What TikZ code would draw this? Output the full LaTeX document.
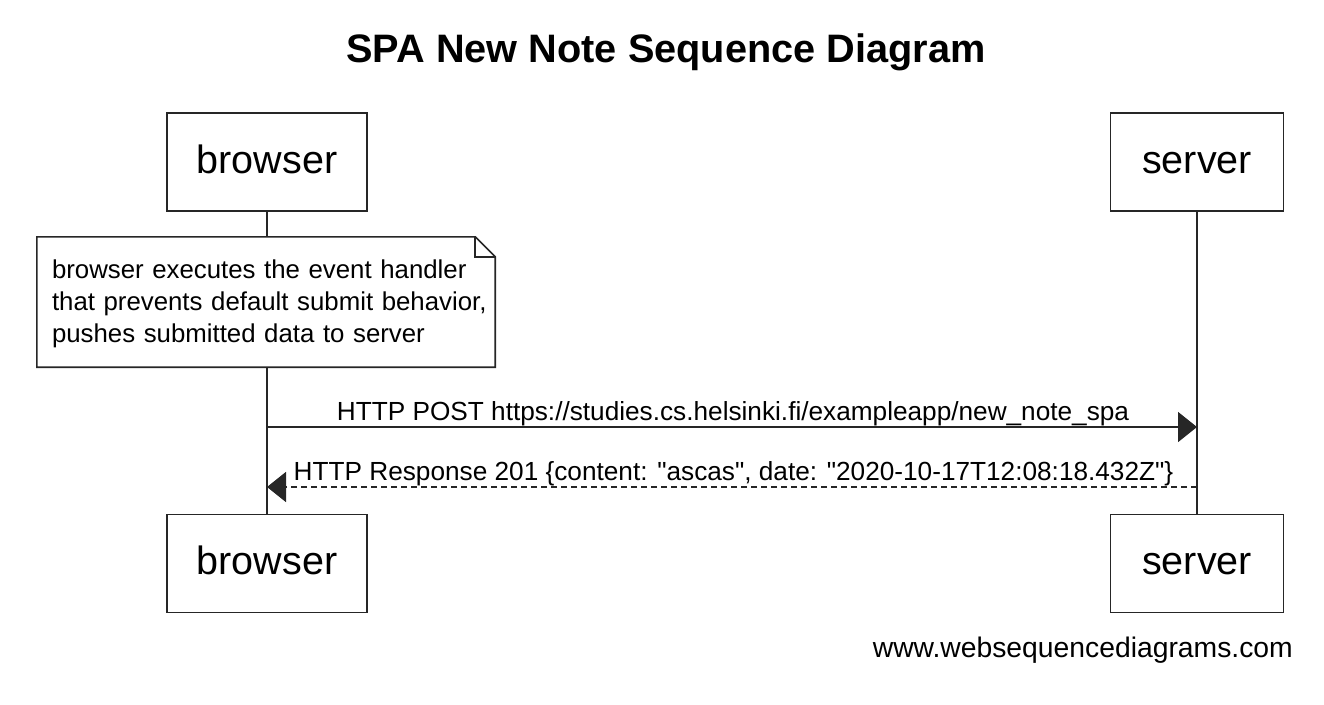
\documentclass[tikz,border=0pt]{standalone}
\usepackage{fontspec}
\setmainfont{Liberation Sans}[Ligatures=TeXOff]
\usetikzlibrary{arrows.meta}
\begin{document}
\begin{tikzpicture}[x=1pt,y=-1pt,
  actor/.style={draw=black!85, line width=1.6pt, fill=white, inner sep=0pt,
    minimum height=98pt, text height=28pt, text depth=6pt,
    font=\fontsize{39.5}{47}\selectfont},
  browserbox/.style={actor, minimum width=200pt},
  serverbox/.style={actor, minimum width=173pt},
  lifeline/.style={draw=black!85, line width=1.6pt},
  notebox/.style={fill=white, inner sep=0pt, minimum width=458pt, minimum height=130pt},
  notetext/.style={inner sep=0pt, text width=436pt, align=left,
    font=\fontsize{25.8}{32}\selectfont},
  msglabel/.style={font=\fontsize{26.2}{31}\selectfont, inner sep=0pt, anchor=base},
  callmsg/.style={draw=black!85, line width=1.6pt, -{Triangle[length=19pt,width=30pt]}},
  replymsg/.style={callmsg, dash pattern=on 6pt off 4pt},
]
\useasboundingbox[fill=white] (0,0) rectangle (1324,704);

% title
\node[anchor=base, inner sep=0pt, font=\bfseries\fontsize{39.7}{48}\selectfont] (title) at (666,62) {SPA New Note Sequence Diagram};

% actors
\node[browserbox] (btop) at (267,162) {browser};
\node[serverbox]  (stop) at (1197,162) {server};
\node[browserbox] (bbot) at (267,563.5) {browser};
\node[serverbox]  (sbot) at (1197,563.5) {server};

% lifelines
\draw[lifeline] (btop.south) -- (bbot.north);
\draw[lifeline] (stop.south) -- (sbot.north);

% note
\node[notebox] (note) at (266,302) {};
\draw[lifeline] (note.north west) -- ([xshift=-20pt]note.north east) -- ([yshift=-20pt]note.north east) -- (note.south east) -- (note.south west) -- cycle;
\draw[lifeline] ([xshift=-20pt]note.north east) |- ([yshift=-20pt]note.north east);
\node[notetext] (notetxt) at (270,304) {browser executes the event handler\\that prevents default submit behavior,\\pushes submitted data to server};

% messages
\coordinate (yPost) at (0,427);
\coordinate (yResp) at (0,487);
\coordinate (postFrom) at (btop.south |- yPost);
\coordinate (postTo) at (stop.south |- yPost);
\coordinate (respFrom) at (stop.south |- yResp);
\coordinate (respTo) at (btop.south |- yResp);
\draw[callmsg] (postFrom) -- (postTo);
\node[msglabel] (postlbl) at (733,420) {HTTP POST https://studies.cs.helsinki.fi/exampleapp/new\_note\_spa};
\draw[replymsg] (respFrom) -- (respTo);
\node[msglabel] (resplbl) at (733.5,480) {HTTP Response 201 \{content: "ascas", date: "2020-10-17T12:08:18.432Z"\}};

% footer
\node[anchor=base east, inner sep=0pt, font=\fontsize{28.3}{34}\selectfont] (footer) at (1293,657) {www.websequencediagrams.com};
\end{tikzpicture}
\end{document}
